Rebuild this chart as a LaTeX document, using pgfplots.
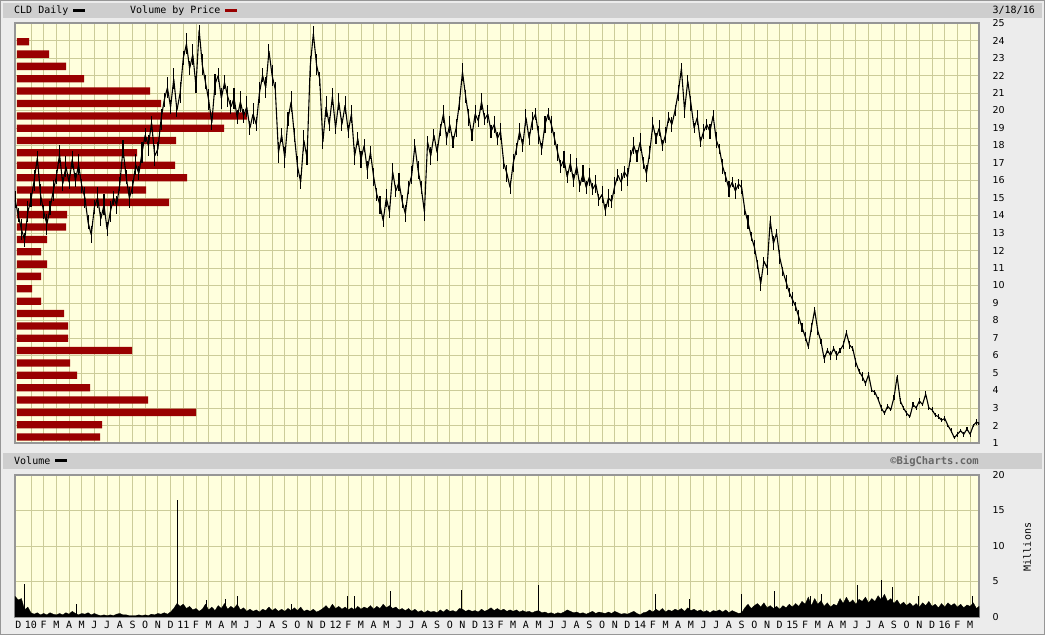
\documentclass[border=0pt]{standalone}
\usepackage{pgfplots}
\usepackage{pgfplotstable}
\pgfplotsset{compat=1.18}
\usepackage{fontspec}
\setmainfont{DejaVu Sans}
\newfontfamily\mono{DejaVu Sans Mono}
\definecolor{bgc}{RGB}{236,236,236}
\definecolor{barc}{RGB}{206,206,206}
\definecolor{plotbg}{RGB}{255,255,221}
\definecolor{gridc}{RGB}{204,204,153}
\definecolor{vbp}{RGB}{153,0,0}
\definecolor{framec}{RGB}{150,150,150}
% CLD daily price: month index (0 = Dec 2009), typical price, half daily range
\pgfplotstableread{
m p e
-0.25 14.9 0.5
0 14.0 0.4
0.25 13.2 0.6
0.5 12.6 0.4
0.75 14.2 0.6
1 14.9 0.4
1.25 16.0 0.6
1.5 17.3 0.4
1.75 15.2 0.6
2 14.2 0.4
2.25 13.5 0.6
2.5 14.4 0.4
2.75 15.4 0.6
3 16.2 0.4
3.25 17.5 0.5
3.5 15.8 0.4
3.75 16.8 0.6
4 15.9 0.4
4.25 17.2 0.5
4.5 16.0 0.4
4.75 16.9 0.6
5 15.7 0.4
5.25 15.0 0.6
5.5 13.6 0.4
5.75 12.9 0.5
6 14.5 0.4
6.25 15.0 0.6
6.5 13.8 0.4
6.75 14.6 0.6
7 13.2 0.4
7.25 14.2 0.6
7.5 15.0 0.4
7.75 14.6 0.5
8 15.8 0.4
8.25 17.8 0.5
8.5 16.2 0.4
8.75 15.0 0.6
9 15.6 0.4
9.25 16.9 0.6
9.5 16.4 0.4
9.75 17.6 0.6
10 18.6 0.4
10.25 18.0 0.6
10.5 19.3 0.4
10.75 17.4 0.6
11 17.8 0.4
11.25 19.5 0.6
11.5 20.6 0.4
11.75 21.3 0.6
12 20.2 0.4
12.25 21.8 0.6
12.5 20.0 0.4
12.75 21.0 0.6
13 23.0 0.4
13.25 23.8 0.6
13.5 22.4 0.4
13.75 23.2 0.6
14 21.4 0.4
14.25 24.6 0.3
14.5 22.6 0.6
14.75 21.6 0.4
15 20.6 0.6
15.25 19.3 0.4
15.5 21.5 0.6
15.75 22.0 0.4
16 20.7 0.6
16.25 21.6 0.4
16.5 20.8 0.6
16.75 20.2 0.4
17 20.7 0.6
17.25 19.6 0.4
17.5 20.5 0.6
17.75 19.7 0.4
18 20.2 0.6
18.25 19.0 0.4
18.5 19.8 0.6
18.75 19.2 0.4
19 21.0 0.6
19.25 22.0 0.4
19.5 21.3 0.6
19.75 23.4 0.4
20 22.0 0.6
20.25 21.2 0.4
20.5 17.6 0.6
20.75 18.6 0.4
21 17.3 0.6
21.25 19.5 0.4
21.5 20.5 0.6
21.75 18.6 0.4
22 16.8 0.6
22.25 15.9 0.4
22.5 18.3 0.6
22.75 17.3 0.4
23 22.5 0.6
23.25 24.4 0.4
23.5 22.6 0.6
23.75 21.8 0.4
24 18.2 0.4
24.25 20.2 0.6
24.5 19.2 0.4
24.75 20.8 0.5
25 19.0 0.35
25.25 20.5 0.5
25.5 19.2 0.35
25.75 20.3 0.5
26 18.8 0.35
26.25 19.8 0.5
26.5 17.4 0.5
26.75 18.4 0.35
27 17.2 0.5
27.25 18.0 0.35
27.5 16.6 0.5
27.75 17.6 0.35
28 16.2 0.5
28.25 15.2 0.35
28.5 14.6 0.5
28.75 13.7 0.35
29 15.0 0.5
29.25 14.2 0.35
29.5 16.5 0.5
29.75 15.4 0.35
30 15.9 0.5
30.25 14.8 0.35
30.5 14.1 0.5
30.75 15.6 0.35
31 16.3 0.5
31.25 18.0 0.35
31.5 16.6 0.5
31.75 15.6 0.35
32 14.2 0.5
32.25 18.2 0.35
32.5 17.4 0.5
32.75 18.6 0.35
33 17.6 0.5
33.25 18.9 0.35
33.5 19.8 0.5
33.75 18.4 0.35
34 19.2 0.5
34.25 18.2 0.35
34.5 19.0 0.5
34.75 20.4 0.35
35 22.2 0.5
35.25 20.8 0.35
35.5 19.6 0.5
35.75 18.6 0.35
36 19.8 0.5
36.25 19.4 0.35
36.5 20.5 0.5
36.75 19.5 0.35
37 19.8 0.5
37.25 18.8 0.35
37.5 19.2 0.5
37.75 18.4 0.35
38 18.8 0.5
38.25 17.0 0.35
38.5 16.4 0.5
38.75 15.6 0.35
39 17.0 0.5
39.25 17.8 0.35
39.5 18.8 0.5
39.75 18.0 0.35
40 19.6 0.5
40.25 18.4 0.35
40.5 19.4 0.5
40.75 19.8 0.35
41 18.6 0.5
41.25 17.8 0.35
41.5 19.2 0.5
41.75 19.8 0.35
42 19.2 0.5
42.25 18.4 0.35
42.5 17.6 0.5
42.75 16.8 0.35
43 17.2 0.5
43.25 16.2 0.35
43.5 17.0 0.5
43.75 16.0 0.35
44 16.8 0.5
44.25 15.7 0.35
44.5 16.4 0.5
44.75 15.6 0.35
45 16.2 0.5
45.25 15.5 0.35
45.5 15.8 0.5
45.75 14.9 0.35
46 15.2 0.5
46.25 14.3 0.35
46.5 15.0 0.5
46.75 14.8 0.35
47 15.7 0.5
47.25 16.3 0.35
47.5 15.9 0.5
47.75 16.5 0.35
48 16.2 0.5
48.25 17.4 0.35
48.5 18.0 0.5
48.75 17.4 0.35
49 18.2 0.5
49.25 17.0 0.35
49.5 16.4 0.5
49.75 17.6 0.35
50 19.2 0.45
50.25 18.4 0.3
50.5 19.0 0.45
50.75 18.0 0.3
51 18.6 0.45
51.25 19.6 0.3
51.5 19.2 0.45
51.75 20.0 0.3
52 21.0 0.45
52.25 22.4 0.3
52.5 20.0 0.45
52.75 21.7 0.3
53 20.4 0.45
53.25 19.0 0.3
53.5 19.6 0.45
53.75 18.2 0.3
54 18.8 0.45
54.25 19.2 0.3
54.5 18.8 0.45
54.75 19.7 0.3
55 18.3 0.45
55.25 17.8 0.3
55.5 16.8 0.45
55.75 16.2 0.3
56 15.5 0.45
56.25 15.9 0.3
56.5 15.4 0.45
56.75 15.8 0.3
57 15.6 0.4
57.25 14.3 0.25
57.5 13.6 0.4
57.75 12.8 0.25
58 12.2 0.4
58.25 11.2 0.25
58.5 10.1 0.4
58.75 11.4 0.25
59 11.0 0.4
59.25 13.7 0.25
59.5 12.4 0.4
59.75 13.0 0.25
60 11.6 0.4
60.25 10.8 0.25
60.5 10.2 0.4
60.75 9.6 0.25
61 9.2 0.4
61.25 8.8 0.25
61.5 8.2 0.4
61.75 7.6 0.25
62 7.1 0.25
62.25 6.5 0.15
62.5 7.6 0.25
62.75 8.6 0.15
63 7.4 0.25
63.25 6.8 0.15
63.5 5.8 0.25
63.75 6.3 0.15
64 6.0 0.25
64.25 6.4 0.15
64.5 6.0 0.25
64.75 6.3 0.15
65 6.6 0.25
65.25 7.3 0.15
65.5 6.6 0.25
65.75 6.4 0.15
66 5.6 0.25
66.25 5.1 0.15
66.5 4.8 0.25
66.75 4.4 0.15
67 4.9 0.15
67.25 4.0 0.1
67.5 3.9 0.15
67.75 3.5 0.1
68 3.0 0.15
68.25 2.7 0.1
68.5 3.1 0.15
68.75 2.9 0.1
69 3.6 0.15
69.25 4.8 0.1
69.5 3.4 0.15
69.75 3.0 0.1
70 2.7 0.15
70.25 2.5 0.1
70.5 3.2 0.15
70.75 3.0 0.1
71 3.4 0.15
71.25 3.2 0.1
71.5 3.8 0.15
71.75 3.0 0.1
72 2.9 0.15
72.25 2.6 0.1
72.5 2.5 0.15
72.75 2.3 0.1
73 2.4 0.15
73.25 2.0 0.1
73.5 1.7 0.15
73.75 1.3 0.1
74 1.5 0.15
74.25 1.7 0.1
74.5 1.5 0.15
74.75 1.8 0.1
75 1.5 0.15
75.25 2.0 0.1
75.5 2.2 0.15
75.7 2.1 0.1
}\price
\pgfplotsset{
  panel/.style={
    anchor=south west, scale only axis, width=964pt,
    xmin=-0.26, xmax=75.7,
    axis background/.style={fill=plotbg},
    grid=major, grid style={gridc, line width=0.9pt},
    major tick length=0pt,
    axis line style={framec, line width=1.2pt},
    yticklabel pos=right,
    /pgf/number format/assume math mode=true,
    yticklabel style={font=\fontsize{9.5}{10}\selectfont, anchor=west, xshift=10pt},
  },
  hidden/.style={
    anchor=south west, scale only axis, width=964pt,
    axis lines=none, ticks=none, clip=true,
  }
}
\begin{document}
\begin{tikzpicture}
\fill[bgc] (0pt,0pt) rectangle (1045pt,635pt);
\draw[framec, line width=1pt] (0.5pt,0.5pt) rectangle (1044.5pt,634.5pt);
\fill[barc] (3pt,617pt) rectangle (1042pt,632pt);
\fill[barc] (3pt,166pt) rectangle (1042pt,182pt);
% header texts
\node[anchor=west, inner sep=0pt, font=\mono\fontsize{10}{10}\selectfont] at (14pt,624.5pt) {CLD Daily};
\fill[black] (73pt,623pt) rectangle (85pt,626pt);
\node[anchor=west, inner sep=0pt, font=\mono\fontsize{10}{10}\selectfont] at (130pt,624.5pt) {Volume by Price};
\fill[vbp] (225pt,623pt) rectangle (237pt,626pt);
\node[anchor=east, inner sep=0pt, font=\mono\fontsize{10}{10}\selectfont] at (1035pt,624.5pt) {3/18/16};
\node[anchor=west, inner sep=0pt, font=\mono\fontsize{10}{10}\selectfont] at (14pt,174pt) {Volume};
\fill[black] (55pt,172.5pt) rectangle (67pt,175.5pt);
\node[anchor=east, inner sep=0pt, font=\mono\bfseries\fontsize{10.5}{10}\selectfont, text=black!60] at (979pt,174pt) {©BigCharts.com};
\node[rotate=90, inner sep=0pt, font=\mono\fontsize{10}{10}\selectfont] at (1027pt,88pt) {Millions};

% ---------- price panel: background, grid, ticks
\begin{axis}[panel, at={(15pt,192pt)}, height=420pt,
  ymin=1, ymax=25, ytick={1,...,25},
  xtick={1,...,75}, xticklabels={}]
\end{axis}

% ---------- volume by price (relative volume at each price band)
\begin{axis}[hidden, at={(15pt,192pt)}, height=420pt,
  xmin=-2, xmax=962, ymin=1, ymax=25]
\addplot[xbar, bar width=7.3pt, fill=vbp, draw=none] coordinates {
(12,23.93)(32,23.22)(49,22.52)(67,21.81)(133,21.11)(144,20.40)(230,19.69)(207,18.99)
(159,18.28)(120,17.58)(158,16.87)(170,16.16)(129,15.46)(152,14.75)(50,14.05)(49,13.34)
(30,12.63)(24,11.93)(30,11.22)(24,10.52)(15,9.81)(24,9.10)(47,8.40)(51,7.69)
(51,6.99)(115,6.28)(53,5.57)(60,4.87)(73,4.16)(131,3.46)(179,2.75)(85,2.04)(83,1.34)
};
\end{axis}

% ---------- price line with daily ranges
\begin{axis}[hidden, at={(15pt,192pt)}, height=420pt,
  xmin=-0.26, xmax=75.7, ymin=1, ymax=25]
\addplot[black, line width=1.1pt, line join=bevel, mark=none,
  error bars/.cd, y dir=both, y explicit, error mark=none,
  error bar style={line width=1.1pt, black}]
  table[x=m, y=p, y error=e] {\price};
\end{axis}

% ---------- volume panel
\begin{axis}[panel, at={(15pt,18pt)}, height=142pt,
  ymin=0, ymax=20, ytick={0,5,...,20},
  xtick={1,...,75},
  xticklabels={10,F,M,A,M,J,J,A,S,O,N,D,11,F,M,A,M,J,J,A,S,O,N,D,12,F,M,A,M,J,J,A,S,O,N,D,13,F,M,A,M,J,J,A,S,O,N,D,14,F,M,A,M,J,J,A,S,O,N,D,15,F,M,A,M,J,J,A,S,O,N,D,16,F,M},
  extra x ticks={0}, extra x tick labels={D},
  extra x tick style={grid=none},
  xticklabel style={font=\mono\fontsize{10}{10}\selectfont, yshift=-1pt},
]
\addplot[fill=black, draw=black, line width=0.3pt] coordinates {
(-0.25,2.9)(0,2.4)(0.25,2.6)(0.5,1.0)(0.75,1.4)(1,0.6)(1.25,0.4)(1.5,0.6)(1.75,0.3)(2,0.5)(2.25,0.3)(2.5,0.6)(2.75,0.4)(3,0.3)(3.25,0.5)(3.5,0.3)(3.75,0.6)(4,0.4)(4.25,0.8)(4.5,0.5)(4.75,0.3)(5,0.5)(5.25,0.4)(5.5,0.6)(5.75,0.3)(6,0.5)(6.25,0.3)(6.5,0.2)(6.75,0.3)(7,0.2)(7.25,0.3)(7.5,0.2)(7.75,0.4)(8,0.5)(8.25,0.3)(8.5,0.3)(8.75,0.2)(9,0.2)(9.25,0.2)(9.5,0.3)(9.75,0.2)(10,0.3)(10.25,0.2)(10.5,0.4)(10.75,0.3)(11,0.5)(11.25,0.4)(11.5,0.6)(11.75,0.4)(12,0.7)(12.25,1.2)(12.5,1.9)(12.75,1.5)(13,1.8)(13.25,1.2)(13.5,1.5)(13.75,1.0)(14,1.2)(14.25,0.8)(14.5,1.1)(14.75,1.8)(15,1.0)(15.25,1.4)(15.5,0.9)(15.75,1.6)(16,1.2)(16.25,1.9)(16.5,1.1)(16.75,1.5)(17,1.2)(17.25,1.8)(17.5,1.0)(17.75,1.3)(18,0.8)(18.25,1.1)(18.5,0.8)(18.75,1.0)(19,0.7)(19.25,1.1)(19.5,0.9)(19.75,1.4)(20,0.9)(20.25,1.2)(20.5,0.8)(20.75,1.1)(21,0.8)(21.25,1.2)(21.5,0.9)(21.75,1.3)(22,0.9)(22.25,1.4)(22.5,0.8)(22.75,1.0)(23,0.8)(23.25,1.1)(23.5,0.7)(23.75,0.9)(24,1.2)(24.25,1.6)(24.5,1.1)(24.75,1.8)(25,1.2)(25.25,1.5)(25.5,1.1)(25.75,1.4)(26,1.0)(26.25,1.3)(26.5,1.0)(26.75,1.5)(27,1.1)(27.25,1.4)(27.5,1.2)(27.75,1.6)(28,1.1)(28.25,1.5)(28.5,1.2)(28.75,1.8)(29,1.3)(29.25,1.6)(29.5,1.2)(29.75,1.4)(30,1.0)(30.25,1.2)(30.5,0.9)(30.75,1.2)(31,0.8)(31.25,1.1)(31.5,0.7)(31.75,0.9)(32,0.6)(32.25,0.9)(32.5,0.7)(32.75,0.8)(33,0.6)(33.25,1.0)(33.5,0.7)(33.75,1.1)(34,0.8)(34.25,0.9)(34.5,0.7)(34.75,1.2)(35,1.1)(35.25,0.8)(35.5,1.0)(35.75,0.8)(36,0.9)(36.25,0.7)(36.5,1.1)(36.75,0.8)(37,1.0)(37.25,1.3)(37.5,0.9)(37.75,1.2)(38,0.9)(38.25,1.1)(38.5,0.8)(38.75,1.0)(39,0.8)(39.25,1.0)(39.5,0.7)(39.75,0.9)(40,0.7)(40.25,0.8)(40.5,0.6)(40.75,0.8)(41,0.9)(41.25,0.6)(41.5,0.7)(41.75,0.5)(42,0.6)(42.25,0.4)(42.5,0.6)(42.75,0.5)(43,0.7)(43.25,1.0)(43.5,0.8)(43.75,0.6)(44,0.7)(44.25,0.5)(44.5,0.6)(44.75,0.4)(45,0.6)(45.25,0.8)(45.5,0.5)(45.75,0.7)(46,0.6)(46.25,0.5)(46.5,0.7)(46.75,0.5)(47,0.8)(47.25,0.6)(47.5,0.4)(47.75,0.5)(48,0.4)(48.25,0.6)(48.5,0.8)(48.75,0.5)(49,0.3)(49.25,0.6)(49.5,0.7)(49.75,1.0)(50,0.7)(50.25,1.1)(50.5,0.8)(50.75,1.2)(51,0.7)(51.25,1.0)(51.5,0.8)(51.75,1.1)(52,0.9)(52.25,1.2)(52.5,0.8)(52.75,1.3)(53,0.9)(53.25,1.1)(53.5,0.8)(53.75,1.0)(54,0.7)(54.25,0.9)(54.5,0.6)(54.75,0.9)(55,0.8)(55.25,1.0)(55.5,0.7)(55.75,1.0)(56,0.6)(56.25,0.9)(56.5,0.7)(56.75,0.5)(57,0.6)(57.25,1.3)(57.5,1.8)(57.75,1.2)(58,1.6)(58.25,1.9)(58.5,1.4)(58.75,2.0)(59,1.3)(59.25,1.6)(59.5,1.2)(59.75,1.5)(60,1.1)(60.25,1.6)(60.5,1.3)(60.75,1.8)(61,1.4)(61.25,1.9)(61.5,1.5)(61.75,2.2)(62,1.8)(62.25,2.8)(62.5,1.6)(62.75,2.6)(63,1.8)(63.25,2.3)(63.5,1.5)(63.75,2.0)(64,1.4)(64.25,1.8)(64.5,1.6)(64.75,2.6)(65,1.9)(65.25,2.8)(65.5,2.0)(65.75,2.4)(66,1.8)(66.25,2.5)(66.5,2.2)(66.75,2.8)(67,2.0)(67.25,2.6)(67.5,2.2)(67.75,3.0)(68,2.4)(68.25,3.2)(68.5,2.2)(68.75,2.6)(69,1.9)(69.25,2.4)(69.5,1.7)(69.75,2.1)(70,1.6)(70.25,2.0)(70.5,1.5)(70.75,1.9)(71,1.4)(71.25,2.0)(71.5,1.6)(71.75,2.2)(72,1.5)(72.25,1.8)(72.5,1.3)(72.75,1.9)(73,1.4)(73.25,2.0)(73.5,1.6)(73.75,1.9)(74,1.4)(74.25,1.8)(74.5,1.3)(74.75,1.7)(75,1.5)(75.25,2.0)(75.5,1.2)(75.7,1.5)
} \closedcycle;
\addplot[ycomb, black, line width=0.8pt] coordinates {
(0.5,4.7)(4.6,1.9)(12.5,16.5)(14.8,2.4)(16.3,2.6)(17.3,3.0)(21.5,1.9)(25.9,3.0)(26.5,2.9)(29.3,3.6)(34.9,3.8)(41.0,4.5)(50.2,3.3)(52.9,2.5)(57.0,3.3)(59.6,3.7)(62.4,2.9)(63.3,3.3)(66.1,4.5)(68.0,5.2)(68.9,4.2)(70.9,3.0)(75.2,2.9)
};
\end{axis}
\end{tikzpicture}
\end{document}
